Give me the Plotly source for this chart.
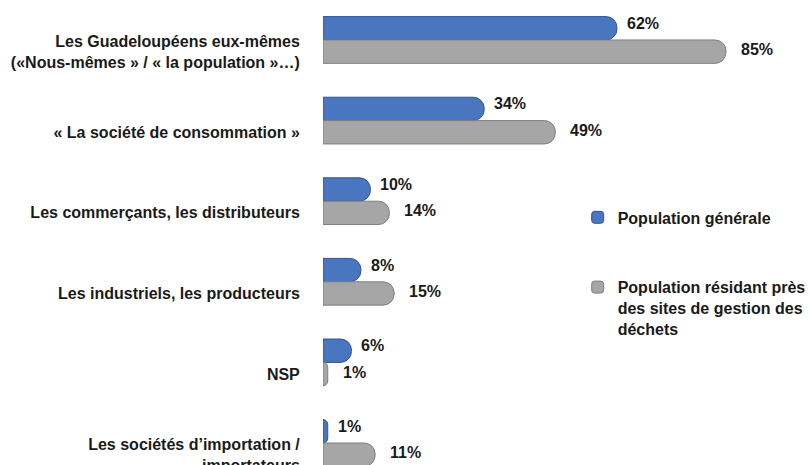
import plotly.graph_objects as go

categories = [
    "Les Guadeloupéens eux-mêmes<br>(«Nous-mêmes » / « la population »…)",
    "« La société de consommation »",
    "Les commerçants, les distributeurs",
    "Les industriels, les producteurs",
    "NSP",
    "Les sociétés d’importation /<br>importateurs",
]
pop_generale = [62, 34, 10, 8, 6, 1]
pop_sites = [85, 49, 14, 15, 1, 11]

series_names = [
    "Population générale",
    "Population résidant près<br>des sites de gestion des<br>déchets",
]

FONT = "Liberation Sans, Arial, sans-serif"
BLUE = "#4a76bf"
BLUE_EDGE = "#2f5596"
GREY = "#a6a6a6"
GREY_EDGE = "#7f7f7f"

# position des barres : bleu au-dessus, gris en dessous
off = 0.145
pos = list(range(len(categories)))
y_blue = [p - off for p in pos]
y_grey = [p + off for p in pos]

fig = go.Figure()

fig.add_trace(go.Bar(
    x=pop_generale, y=y_blue, orientation="h", width=0.29,
    name=series_names[0], legendgroup="a",
    marker=dict(color=BLUE, line=dict(color=BLUE_EDGE, width=1), cornerradius=11),
))
fig.add_trace(go.Bar(
    x=pop_sites, y=y_grey, orientation="h", width=0.29,
    name=series_names[1], legendgroup="b",
    marker=dict(color=GREY, line=dict(color=GREY_EDGE, width=1), cornerradius=11),
))

# étiquettes de valeurs
annotations = []
for v, y in zip(pop_generale, y_blue):
    annotations.append(dict(x=v, y=y, text=f"{v}%", showarrow=False,
                            xanchor="left", xshift=8, yshift=5,
                            font=dict(family=FONT, size=16, color="#1a1a1a", weight="bold")))
for v, y in zip(pop_sites, y_grey):
    annotations.append(dict(x=v, y=y, text=f"{v}%", showarrow=False,
                            xanchor="left", xshift=13, yshift=2,
                            font=dict(family=FONT, size=16, color="#1a1a1a", weight="bold")))

fig.update_layout(
    width=809, height=465,
    margin=dict(l=323, r=0, t=0, b=0, autoexpand=False),
    paper_bgcolor="white", plot_bgcolor="white",
    barmode="overlay",
    annotations=annotations,
    xaxis=dict(range=[0, 102.5], visible=False, automargin=False),
    yaxis=dict(
        range=[5.273, -0.496], automargin=False,
        tickvals=y_grey, ticktext=categories, ticklabeloverflow="allow",
        ticks="outside", ticklen=19, tickcolor="rgba(0,0,0,0)",
        showgrid=False, zeroline=False, showline=False,
        tickfont=dict(family=FONT, size=16, color="#1a1a1a", weight="bold"),
    ),
    legend=dict(
        x=0.524, xanchor="left", y=0.569, yanchor="top",
        valign="top", tracegroupgap=46,
        font=dict(family=FONT, size=16, color="#1a1a1a", weight="bold"),
        bgcolor="rgba(0,0,0,0)",
    ),
    showlegend=True,
)

# pas de marge autour du graphique dans la page
fig.write_html("out.html", config={"displayModeBar": False},
               post_script="document.body.style.margin='0';")
